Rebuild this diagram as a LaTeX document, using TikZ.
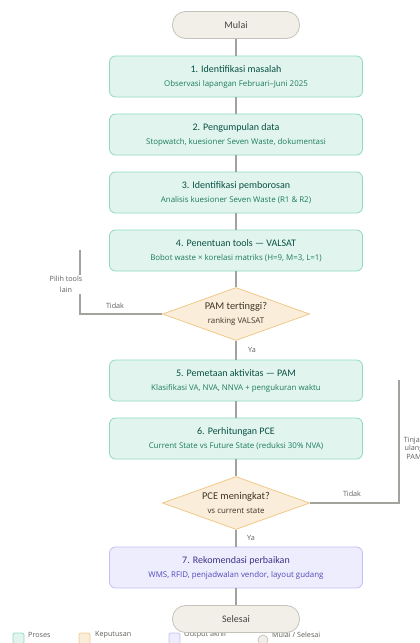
\documentclass[tikz,border=0pt]{standalone}
\usepackage{fontspec}
\setmainfont{Carlito}
\newfontfamily\kecil{Open Sans}
\usetikzlibrary{shapes.geometric}

\definecolor{procfill}{HTML}{E1F5EE}
\definecolor{procline}{HTML}{8FD9BE}
\definecolor{proctitle}{HTML}{085041}
\definecolor{procsub}{HTML}{1D7A5F}
\definecolor{decfill}{HTML}{FAEEDA}
\definecolor{decline}{HTML}{F0C98A}
\definecolor{dectext}{HTML}{3F3526}
\definecolor{outfill}{HTML}{EEEDFE}
\definecolor{outline}{HTML}{C3BEF2}
\definecolor{outtitle}{HTML}{3C3489}
\definecolor{outsub}{HTML}{534AB7}
\definecolor{termfill}{HTML}{F1EFE8}
\definecolor{termline}{HTML}{C4C2BA}
\definecolor{termtext}{HTML}{444441}
\definecolor{connline}{HTML}{A3A29C}
\definecolor{lbltext}{HTML}{5F5E5A}

\newcommand{\judul}[1]{{\fontsize{10}{14}\selectfont #1}}
\newcommand{\ket}[1]{{\kecil\fontsize{7.9}{14}\selectfont #1}}

\begin{document}
\begin{tikzpicture}[x=1pt,y=1pt,yscale=-1,
  proses/.style={draw=procline,fill=procfill,rounded corners=6pt,line width=0.8pt,
    minimum width=253pt,minimum height=41pt,inner sep=0pt,align=center,
    text=proctitle,font=\fontsize{10}{14}\selectfont},
  output/.style={proses,draw=outline,fill=outfill},
  keputusan/.style={diamond,aspect=2.8,draw=decline,fill=decfill,line width=0.8pt,
    minimum width=147pt,minimum height=53pt,inner sep=0pt,align=center,
    text=dectext,font=\fontsize{10.4}{14}\selectfont},
  terminal/.style={draw=termline,fill=termfill,rounded corners=13pt,line width=0.8pt,
    minimum width=127pt,minimum height=27pt,inner sep=0pt,text=termtext,
    font=\fontsize{10}{11}\selectfont},
  conn/.style={draw=connline,line width=1.3pt},
  lbl/.style={text=lbltext,inner sep=1pt,font=\kecil\fontsize{7.2}{8.5}\selectfont},
  legbox/.style={rounded corners=2pt,line width=0.7pt,minimum size=11pt,inner sep=0pt}]
  \useasboundingbox (0,0) rectangle (420,643);

  % Legend
  \node[legbox,draw=procline,fill=procfill] (swproses) at (18.5,638.5) {};
  \node[lbl,anchor=west] (txproses) at (27,635) {Proses};
  \node[legbox,draw=decline,fill=decfill] (swkeputusan) at (84.5,638.5) {};
  \node[lbl,anchor=west] (txkeputusan) at (94,635) {Keputusan};
  \node[legbox,draw=outline,fill=outfill] (swoutput) at (174.5,638.5) {};
  \node[lbl,anchor=west] (txoutput) at (183,635) {Output akhir};
  \node[legbox,circle,draw=termline,fill=termfill,minimum size=10pt] (swterminal) at (263,640) {};
  \node[lbl,anchor=west] (txterminal) at (271,635) {Mulai / Selesai};

  % Start
  \node[terminal] (mulai) at (236,25) {Mulai};
  % Steps
  \node[proses] (s1) at (236,76.5) {\judul{1. Identifikasi masalah}\\{\color{procsub}\ket{Observasi lapangan Februari–Juni 2025}}};
  \node[proses] (s2) at (236,134.5) {\judul{2. Pengumpulan data}\\{\color{procsub}\ket{Stopwatch, kuesioner Seven Waste, dokumentasi}}};
  \node[proses] (s3) at (236,192.5) {\judul{3. Identifikasi pemborosan}\\{\color{procsub}\ket{Analisis kuesioner Seven Waste (R1 \& R2)}}};
  \node[proses] (s4) at (236,250.5) {\judul{4. Penentuan tools — VALSAT}\\{\color{procsub}\ket{Bobot waste × korelasi matriks (H=9, M=3, L=1)}}};
  % Decision 1
  \node[keputusan] (d1) at (236,314) {PAM tertinggi?\\[-0.5pt]\ket{ranking VALSAT}};
  \node[proses] (s5) at (236,380.5) {\judul{5. Pemetaan aktivitas — PAM}\\{\color{procsub}\ket{Klasifikasi VA, NVA, NNVA + pengukuran waktu}}};
  \node[proses] (s6) at (236,438.5) {\judul{6. Perhitungan PCE}\\{\color{procsub}\ket{Current State vs Future State (reduksi 30\% NVA)}}};
  % Decision 2
  \node[keputusan] (d2) at (236,503) {PCE meningkat?\\[0.5pt]\ket{vs current state}};
  \node[output,text=outtitle] (s7) at (236,567.5) {\judul{7. Rekomendasi perbaikan}\\{\color{outsub}\ket{WMS, RFID, penjadwalan vendor, layout gudang}}};
  % End
  \node[terminal] (selesai) at (236,619) {Selesai};

  % Connectors
  \draw[conn] (mulai) -- (s1);
  \draw[conn] (s1) -- (s2);
  \draw[conn] (s2) -- (s3);
  \draw[conn] (s3) -- (s4);
  \draw[conn] (s4) -- (d1);
  \draw[conn] (d1) -- (s5);
  \draw[conn] (s5) -- (s6);
  \draw[conn] (s6) -- (d2);
  \draw[conn] (d2) -- (s7);
  \draw[conn] (s7) -- (selesai);

  % Loops back
  \coordinate (pilih) at (80,250);
  \coordinate (tinjau) at (399,380);
  \draw[conn] (d1.west) -| (pilih);
  \draw[conn] (d2.east) -| (tinjau);

  % Text Node
  \node[lbl] (ya1) at (252,350) {Ya};
  \node[lbl] (ya2) at (251,538) {Ya};
  \node[lbl] (tidak1) at (115,306) {Tidak};
  \node[lbl] (tidak2) at (352,494) {Tidak};
  \node[lbl,fill=white,align=center,font=\kecil\fontsize{7.2}{10.5}\selectfont] (pilihlbl) at (66,284.5) {Pilih tools\\lain};
  \node[lbl,align=center,font=\kecil\fontsize{7.2}{8.5}\selectfont] (tinjaulbl) at (414,448) {Tinjau\\ulang\\PAM};
\end{tikzpicture}
\end{document}
